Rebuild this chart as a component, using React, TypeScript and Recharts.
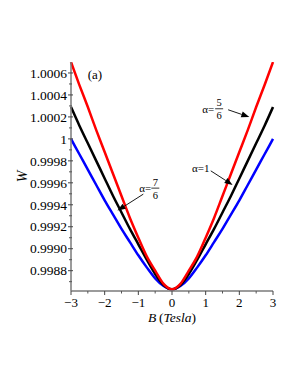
import { LineChart, Line, XAxis, YAxis, ReferenceLine, ReferenceDot } from "recharts";

// ─── data ─────────────────────────────────────────────────────────────────────

const B_VALUES = [
  -3, -2.75, -2.5, -2.25, -2, -1.75, -1.5, -1.25, -1, -0.75, -0.5, -0.25, 0,
  0.25, 0.5, 0.75, 1, 1.25, 1.5, 1.75, 2, 2.25, 2.5, 2.75, 3,
];

// alpha = 5/6
const W_RED = [
  1.0007, 1.00049, 1.00029, 1.00008, 0.99988, 0.99968, 0.99948, 0.99928, 0.9991, 0.99893, 0.9988, 0.99868, 0.99863,
  0.99868, 0.9988, 0.99893, 0.9991, 0.99928, 0.99948, 0.99968, 0.99988, 1.00008, 1.00029, 1.00049, 1.0007,
];

// alpha = 1
const W_BLACK = [
  1.00029, 1.00012, 0.99996, 0.9998, 0.99964, 0.99948, 0.99933, 0.99918, 0.99904, 0.9989, 0.99877, 0.99867, 0.99863,
  0.99867, 0.99877, 0.9989, 0.99904, 0.99918, 0.99933, 0.99948, 0.99964, 0.9998, 0.99996, 1.00012, 1.00029,
];

// alpha = 7/6
const W_BLUE = [
  1.0, 0.99986, 0.99972, 0.99958, 0.99944, 0.99931, 0.99918, 0.99906, 0.99894, 0.99883, 0.99873, 0.99866, 0.99863,
  0.99866, 0.99873, 0.99883, 0.99894, 0.99906, 0.99918, 0.99931, 0.99944, 0.99958, 0.99972, 0.99986, 1.0,
];

const X_MAJOR = [-3, -2, -1, 0, 1, 2, 3];
const X_MINOR = [-2.5, -1.5, -0.5, 0.5, 1.5, 2.5];
const X_LABELS = ["\u22123", "\u22122", "\u22121", "0", "1", "2", "3"];

const Y_MAJOR = [0.9988, 0.999, 0.9992, 0.9994, 0.9996, 0.9998, 1, 1.0002, 1.0004, 1.0006];
const Y_MINOR = [0.9987, 0.9989, 0.9991, 0.9993, 0.9995, 0.9997, 0.9999, 1.0001, 1.0003, 1.0005];
const Y_LABELS = ["0.9988", "0.9990", "0.9992", "0.9994", "0.9996", "0.9998", "1", "1.0002", "1.0004", "1.0006"];

const data = B_VALUES.map((b, i) => ({ b, red: W_RED[i], black: W_BLACK[i], blue: W_BLUE[i] }));

// ─── styling ──────────────────────────────────────────────────────────────────

const FONT = '"Liberation Serif", "DejaVu Serif", serif';
const serif = { fontFamily: FONT };
const FRAME = "#7a7a7a";
const TICK_SIZE = 3;
const TICK_MARGIN = 3;

function YTick(props: any) {
  const { x, y, payload } = props;
  const ax = x + TICK_SIZE + TICK_MARGIN;
  const i = Y_MAJOR.indexOf(payload.value);
  if (i < 0) {
    return <line x1={ax - 2} x2={ax + 1} y1={y} y2={y} stroke="#555" strokeWidth={1} />;
  }
  return (
    <g>
      <line x1={ax - 3} x2={ax + 2} y1={y} y2={y} stroke="#444" strokeWidth={1} />
      <text x={ax - 4} y={y} dy="0.35em" textAnchor="end" style={serif} fontSize={13.5} fill="#000">
        {Y_LABELS[i]}
      </text>
    </g>
  );
}

function XTick(props: any) {
  const { x, y, payload } = props;
  const ay = y - TICK_SIZE - TICK_MARGIN;
  const i = X_MAJOR.indexOf(payload.value);
  if (i < 0) {
    return <line x1={x} x2={x} y1={ay} y2={ay + 2.5} stroke="#555" strokeWidth={1} />;
  }
  return (
    <g>
      <line x1={x} x2={x} y1={ay} y2={ay + 4} stroke="#444" strokeWidth={1} />
      <text x={x} y={ay + 11} dy="0.35em" textAnchor="middle" style={serif} fontSize={13} fill="#000">
        {X_LABELS[i]}
      </text>
    </g>
  );
}

function Frac({ x, y, num, den }: { x: number; y: number; num: string; den: string }) {
  return (
    <g style={serif} fontSize={10.5} fill="#000">
      <text x={x} y={y - 6} dy="0.35em" textAnchor="middle" style={serif}>{num}</text>
      <line x1={x - 4} x2={x + 4} y1={y} y2={y} stroke="#000" strokeWidth={0.8} />
      <text x={x} y={y + 7} dy="0.35em" textAnchor="middle" style={serif}>{den}</text>
    </g>
  );
}

function arrowShape(kind: "56" | "1" | "76") {
  return (p: any) => {
    const { x1, y1, x2, y2 } = p;
    const ang = Math.atan2(y2 - y1, x2 - x1);
    const len = 8;
    const half = 3;
    const bx = x2 - len * Math.cos(ang);
    const by = y2 - len * Math.sin(ang);
    const px = -Math.sin(ang) * half;
    const py = Math.cos(ang) * half;
    let label = null;
    if (kind === "56") {
      label = (
        <g>
          <text x={x1 - 20} y={y1 - 1} dy="0.35em" textAnchor="middle" style={serif} fontSize={11}>α=</text>
          <Frac x={x1 - 9} y={y1 - 1} num="5" den="6" />
        </g>
      );
    } else if (kind === "1") {
      label = (
        <text x={x1 - 10} y={y1 - 3} dy="0.35em" textAnchor="middle" style={serif} fontSize={11}>α=1</text>
      );
    } else {
      label = (
        <g>
          <text x={x1 + 2} y={y1 - 6} dy="0.35em" textAnchor="middle" style={serif} fontSize={11}>α=</text>
          <Frac x={x1 + 12} y={y1 - 6} num="7" den="6" />
        </g>
      );
    }
    return (
      <g>
        <line x1={x1} y1={y1} x2={bx} y2={by} stroke="#000" strokeWidth={0.9} />
        <polygon points={`${x2},${y2} ${bx + px},${by + py} ${bx - px},${by - py}`} fill="#000" />
        {label}
      </g>
    );
  };
}

function XLabel(props: any) {
  const { viewBox } = props;
  const cx = viewBox.x + viewBox.width / 2;
  return (
    <text x={cx} y={viewBox.y + 31} textAnchor="middle" style={serif} fontSize={13.5} fill="#000">
      <tspan fontStyle="italic">B</tspan>
      <tspan>{"\u2009("}</tspan>
      <tspan fontStyle="italic">Tesla</tspan>
      <tspan>)</tspan>
    </text>
  );
}

function YLabel(props: any) {
  const { viewBox } = props;
  const cy = viewBox.y + viewBox.height / 2;
  const x = 22;
  return (
    <text
      x={x}
      y={cy}
      textAnchor="middle"
      dy="0.35em"
      transform={`rotate(-90 ${x} ${cy})`}
      style={serif}
      fontStyle="italic"
      fontSize={14}
      fill="#000"
    >
      W
    </text>
  );
}

export default function App() {
  return (
    <div style={{ position: "absolute", left: 0, top: 0, background: "#fff", fontFamily: FONT }}>
      <LineChart width={298} height={385} data={data} margin={{ top: 62, right: 25, left: 11, bottom: 64 }}>
        <XAxis
          dataKey="b"
          type="number"
          domain={[-3, 3]}
          ticks={[...X_MAJOR, ...X_MINOR]}
          tick={<XTick />}
          tickLine={false}
          tickSize={TICK_SIZE}
          tickMargin={TICK_MARGIN}
          axisLine={{ stroke: FRAME, strokeWidth: 1.5 }}
          height={30}
          interval={0}
          label={<XLabel />}
        />
        <XAxis
          xAxisId="top"
          orientation="top"
          type="number"
          domain={[-3, 3]}
          tick={false}
          tickLine={false}
          height={0}
          axisLine={{ stroke: FRAME, strokeWidth: 1.5 }}
        />
        <YAxis
          type="number"
          domain={[0.998615, 1.0007]}
          allowDataOverflow
          ticks={[...Y_MAJOR, ...Y_MINOR]}
          tick={<YTick />}
          tickLine={false}
          tickSize={TICK_SIZE}
          tickMargin={TICK_MARGIN}
          axisLine={{ stroke: FRAME, strokeWidth: 1.5 }}
          width={60}
          interval={0}
          label={<YLabel />}
        />
        <YAxis
          yAxisId="right"
          orientation="right"
          type="number"
          domain={[0, 1]}
          tick={false}
          tickLine={false}
          width={0}
          axisLine={{ stroke: FRAME, strokeWidth: 1.5 }}
        />
        <Line dataKey="blue" type="monotone" stroke="#0000ff" strokeWidth={2.5} dot={false} isAnimationActive={false} />
        <Line dataKey="black" type="monotone" stroke="#000000" strokeWidth={2.5} dot={false} isAnimationActive={false} />
        <Line dataKey="red" type="monotone" stroke="#ff0000" strokeWidth={2.5} dot={false} isAnimationActive={false} />
        <ReferenceLine
          segment={[{ x: 1.668, y: 1.000265 }, { x: 2.296, y: 1.000199 }]}
          shape={arrowShape("56")}
          ifOverflow="visible"
        />
        <ReferenceLine
          segment={[{ x: 1.151, y: 0.999709 }, { x: 1.8, y: 0.999581 }]}
          shape={arrowShape("1")}
          ifOverflow="visible"
        />
        <ReferenceLine
          segment={[{ x: -0.852, y: 0.999497 }, { x: -1.62, y: 0.999347 }]}
          shape={arrowShape("76")}
          ifOverflow="visible"
        />
        <ReferenceDot
          x={-2.29}
          y={1.000585}
          r={0}
          fill="none"
          stroke="none"
          ifOverflow="visible"
          label={(p: any) => (
            <text
              x={p.viewBox.x}
              y={p.viewBox.y}
              dy="0.35em"
              textAnchor="middle"
              style={serif}
              fontSize={13}
              fill="#000"
            >
              (a)
            </text>
          )}
        />
      </LineChart>
    </div>
  );
}
